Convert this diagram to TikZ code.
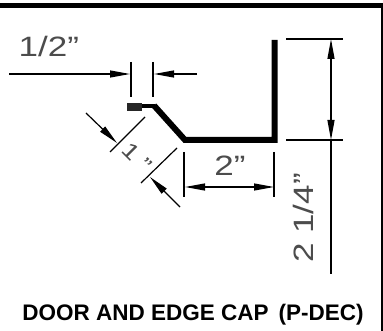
\documentclass[tikz,border=0pt]{standalone}
\usepackage{fontspec}
\setmainfont{Liberation Sans}
\newfontfamily\dimfont[FakeStretch=1.25]{Liberation Sans}
\usetikzlibrary{arrows.meta}
\tikzset{
  dimline/.style = {line width=1.2pt, {Triangle[length=20pt,width=7pt]}-{Triangle[length=20pt,width=7pt]}},
  dimtip/.style = {line width=1.2pt, -{Triangle[length=20pt,width=7pt]}},
  extline/.style = {line width=1.2pt},
  capline/.style = {line width=6pt, miter limit=10},
  dimtext/.style = {font=\dimfont\fontsize{28}{28}\selectfont, inner sep=0pt, text=black!70},
}
\begin{document}
\begin{tikzpicture}[x=1pt, y=-1pt]
        \useasboundingbox (0, 0) rectangle (383, 331);
        \fill[white] (0, 0) rectangle (383, 331);
        \coordinate (frameleft)  at (0, 5.6);
        \coordinate (frametop)   at (382, 5.6);
        \coordinate (framebot)   at (382, 331);
        \draw[line width=4.8pt] (frameleft) -- (383, 5.6);
        \draw[line width=2pt] (frametop) -- (framebot);
        % cap profile
        \coordinate (lipend)   at (128, 106.5);
        \coordinate (lipbend)  at (155, 106.5);
        \coordinate (lowbend)  at (185, 140);
        \coordinate (corner)   at (274.5, 140);
        \coordinate (captop)   at (274.5, 40);
        \draw[capline] (lipbend) ++(-1, -1) -- (lowbend) -- (corner) -- (captop);
        \draw[line width=4pt] (lipend) -- (lipbend);
        \fill[black!85] (127, 103) rectangle (142, 111);
        % 1/2 dimension
        \coordinate (halfa)    at (130, 74);
        \coordinate (halfb)    at (154, 74);
        \coordinate (halfleft) at (9, 74);
        \coordinate (halfright)at (197, 74);
        \draw[extline] (131, 62) -- (131, 97);
        \draw[extline] (153, 62) -- (153, 97);
        \draw[dimtip] (halfleft) -- (halfa);
        \draw[dimtip] (halfright) -- (halfb);
        \node[dimtext, anchor=base west] (halflabel) at (18.5, 57) {1/2”};
        % 1 dimension
        \coordinate (onea) at (117, 143);
        \coordinate (oneb) at (150, 177);
        \draw[extline] (110, 152) -- (145, 117);
        \draw[extline] (141, 183) -- (177, 148);
        \draw[dimtip] (86, 113) -- (onea);
        \draw[dimtip] (180, 207) -- (oneb);
        \node[dimtext, rotate=-45, font=\dimfont\fontsize{22}{22}\selectfont] (onelabel) at (137, 157) {1 ”};
        % 2 dimension
        \coordinate (twoa) at (185, 187);
        \coordinate (twob) at (274, 187);
        \draw[extline] (184, 152) -- (184, 197);
        \draw[extline] (274, 152) -- (274, 197);
        \draw[dimline] (twoa) -- (twob);
        \node[dimtext, anchor=base] (twolabel) at (230, 176) {2”};
        % 2 1/4 dimension
        \coordinate (heighttop) at (331, 39);
        \coordinate (heightmid) at (331, 140);
        \coordinate (heightbot) at (331, 274);
        \draw[extline] (286, 39) -- (343, 39);
        \draw[extline] (286, 140) -- (343, 140);
        \draw[dimline] (heighttop) -- (heightmid);
        \draw[extline] (heightmid) -- (heightbot);
        \node[dimtext, rotate=90, anchor=base west] (heightlabel) at (313, 263) {2 1/4”};
        % title
        \node[font=\fontsize{22.5}{22.5}\selectfont\bfseries, inner sep=0pt] (title) at (193, 314.5) {DOOR AND EDGE CAP\, (P-DEC)};
      \end{tikzpicture}
\end{document}
